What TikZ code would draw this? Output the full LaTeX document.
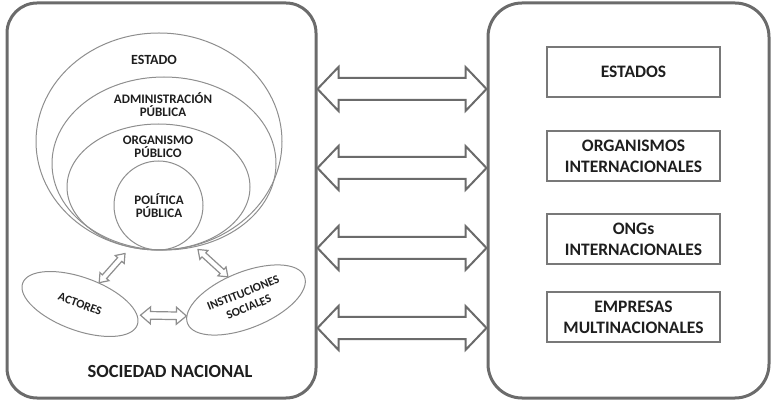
\documentclass[tikz,border=0pt]{standalone}
\usepackage{fontspec}
\setmainfont{Carlito}
\usepackage{tikz}
\usetikzlibrary{calc,positioning,shapes.geometric}

\definecolor{ink}{HTML}{1E1E1E}
\definecolor{frame}{HTML}{6B6B6B}
\definecolor{boxline}{HTML}{787878}
\definecolor{ring}{HTML}{8E8E8E}

% block arrow with two heads: [style]{head length}{head half width}{shaft half width}{from}{to}
\newcommand{\twoway}[6][fatarrow]{%
  \draw[#1] (#5) -- ($(#5)!#2!(#6)!#3!90:(#6)$) -- ($(#5)!#2!(#6)!#4!90:(#6)$)
    -- ($(#6)!#2!(#5)!#4!-90:(#5)$) -- ($(#6)!#2!(#5)!#3!-90:(#5)$) -- (#6)
    -- ($(#6)!#2!(#5)!#3!90:(#5)$) -- ($(#6)!#2!(#5)!#4!90:(#5)$)
    -- ($(#5)!#2!(#6)!#4!-90:(#6)$) -- ($(#5)!#2!(#6)!#3!-90:(#6)$) -- cycle;}

\begin{document}
\begin{tikzpicture}[
  x=1pt, y=-1pt,
  panel/.style={draw=frame, line width=3pt, rounded corners=30pt},
  ibox/.style={draw=boxline, line width=2pt, minimum width=173pt, minimum height=50pt, align=center, inner sep=0pt, text=ink, font=\fontsize{17.5}{21}\selectfont\bfseries},
  oval/.style={draw=ring, line width=1pt, ellipse, inner sep=0pt},
  lbl/.style={text=ink, align=center, inner sep=0pt, font=\fontsize{13}{13}\selectfont\bfseries},
  small/.style={text=ink, align=center, inner sep=0pt, font=\fontsize{12}{15}\selectfont\bfseries},
  fatarrow/.style={draw=frame, line width=2pt, fill=white, line join=miter},
  thinarrow/.style={draw=ring, line width=1.2pt, fill=white, line join=miter}
]
\useasboundingbox (0,0) rectangle (771,403);

% national side
\node[panel, minimum width=309pt, minimum height=395pt] (nacional) at (161.5,200.5) {};
\node[text=ink, font=\fontsize{18.5}{20}\selectfont\bfseries] (socnac) at (170,371) {SOCIEDAD NACIONAL};

\node[oval, minimum width=246pt, minimum height=217pt] (estado) at (159,141.5) {};
\node[oval, minimum width=224pt, minimum height=173pt] (admin) at (164,163.5) {};
\node[oval, minimum width=183pt, minimum height=126pt] (organismo) at (158.5,187) {};
\node[draw=ring, line width=1pt, circle, inner sep=0pt, minimum size=89pt] (politica) at (158.5,205.5) {};

\node[lbl, font=\fontsize{14}{14}\selectfont\bfseries] (estadotxt) at (154,60) {ESTADO};
\node[lbl] (admintxt) at (163,104.5) {ADMINISTRACIÓN\\PÚBLICA};
\node[lbl] (organismotxt) at (158,146.5) {ORGANISMO\\PÚBLICO};
\node[lbl] (politicatxt) at (159,205.5) {POLÍTICA\\PÚBLICA};

\node[oval, small, rotate=-20, minimum width=122pt, minimum height=53pt] (actores) at (80,304) {ACTORES};
\node[oval, small, rotate=22, minimum width=126pt, minimum height=56pt] (inst) at (246,300) {INSTITUCIONES\\SOCIALES};

\coordinate (tipl) at ([xshift=-34pt,yshift=-3pt]estado.south);
\coordinate (tipr) at ([xshift=39pt,yshift=1pt]estado.south);
\coordinate (ae) at ([xshift=3pt]actores.9);
\twoway[thinarrow]{8pt}{6pt}{2.8pt}{actores.68}{tipl}
\twoway[thinarrow]{8pt}{6pt}{2.8pt}{inst.106}{tipr}
\twoway[thinarrow]{10pt}{8.5pt}{3.8pt}{ae}{inst.173}

% international side
\node[panel, rounded corners=34pt, minimum width=281pt, minimum height=395pt] (internacional) at (628.5,200.5) {};
\node[ibox] (estados) at (633.5,72) {ESTADOS};
\node[ibox, below=32pt of estados] (organismos) {ORGANISMOS\\INTERNACIONALES};
\node[ibox, below=31pt of organismos] (ongs) {ONGs\\INTERNACIONALES};
\node[ibox, below=26pt of ongs] (empresas) {EMPRESAS\\MULTINACIONALES};

\foreach \y [count=\i] in {89,168,248,328} {
  \path (0,\y) coordinate (row\i);
  \coordinate (w\i) at (nacional.east |- row\i);
  \coordinate (e\i) at (internacional.west |- row\i);
  \twoway{21pt}{22pt}{11pt}{w\i}{e\i}
}
\end{tikzpicture}
\end{document}
